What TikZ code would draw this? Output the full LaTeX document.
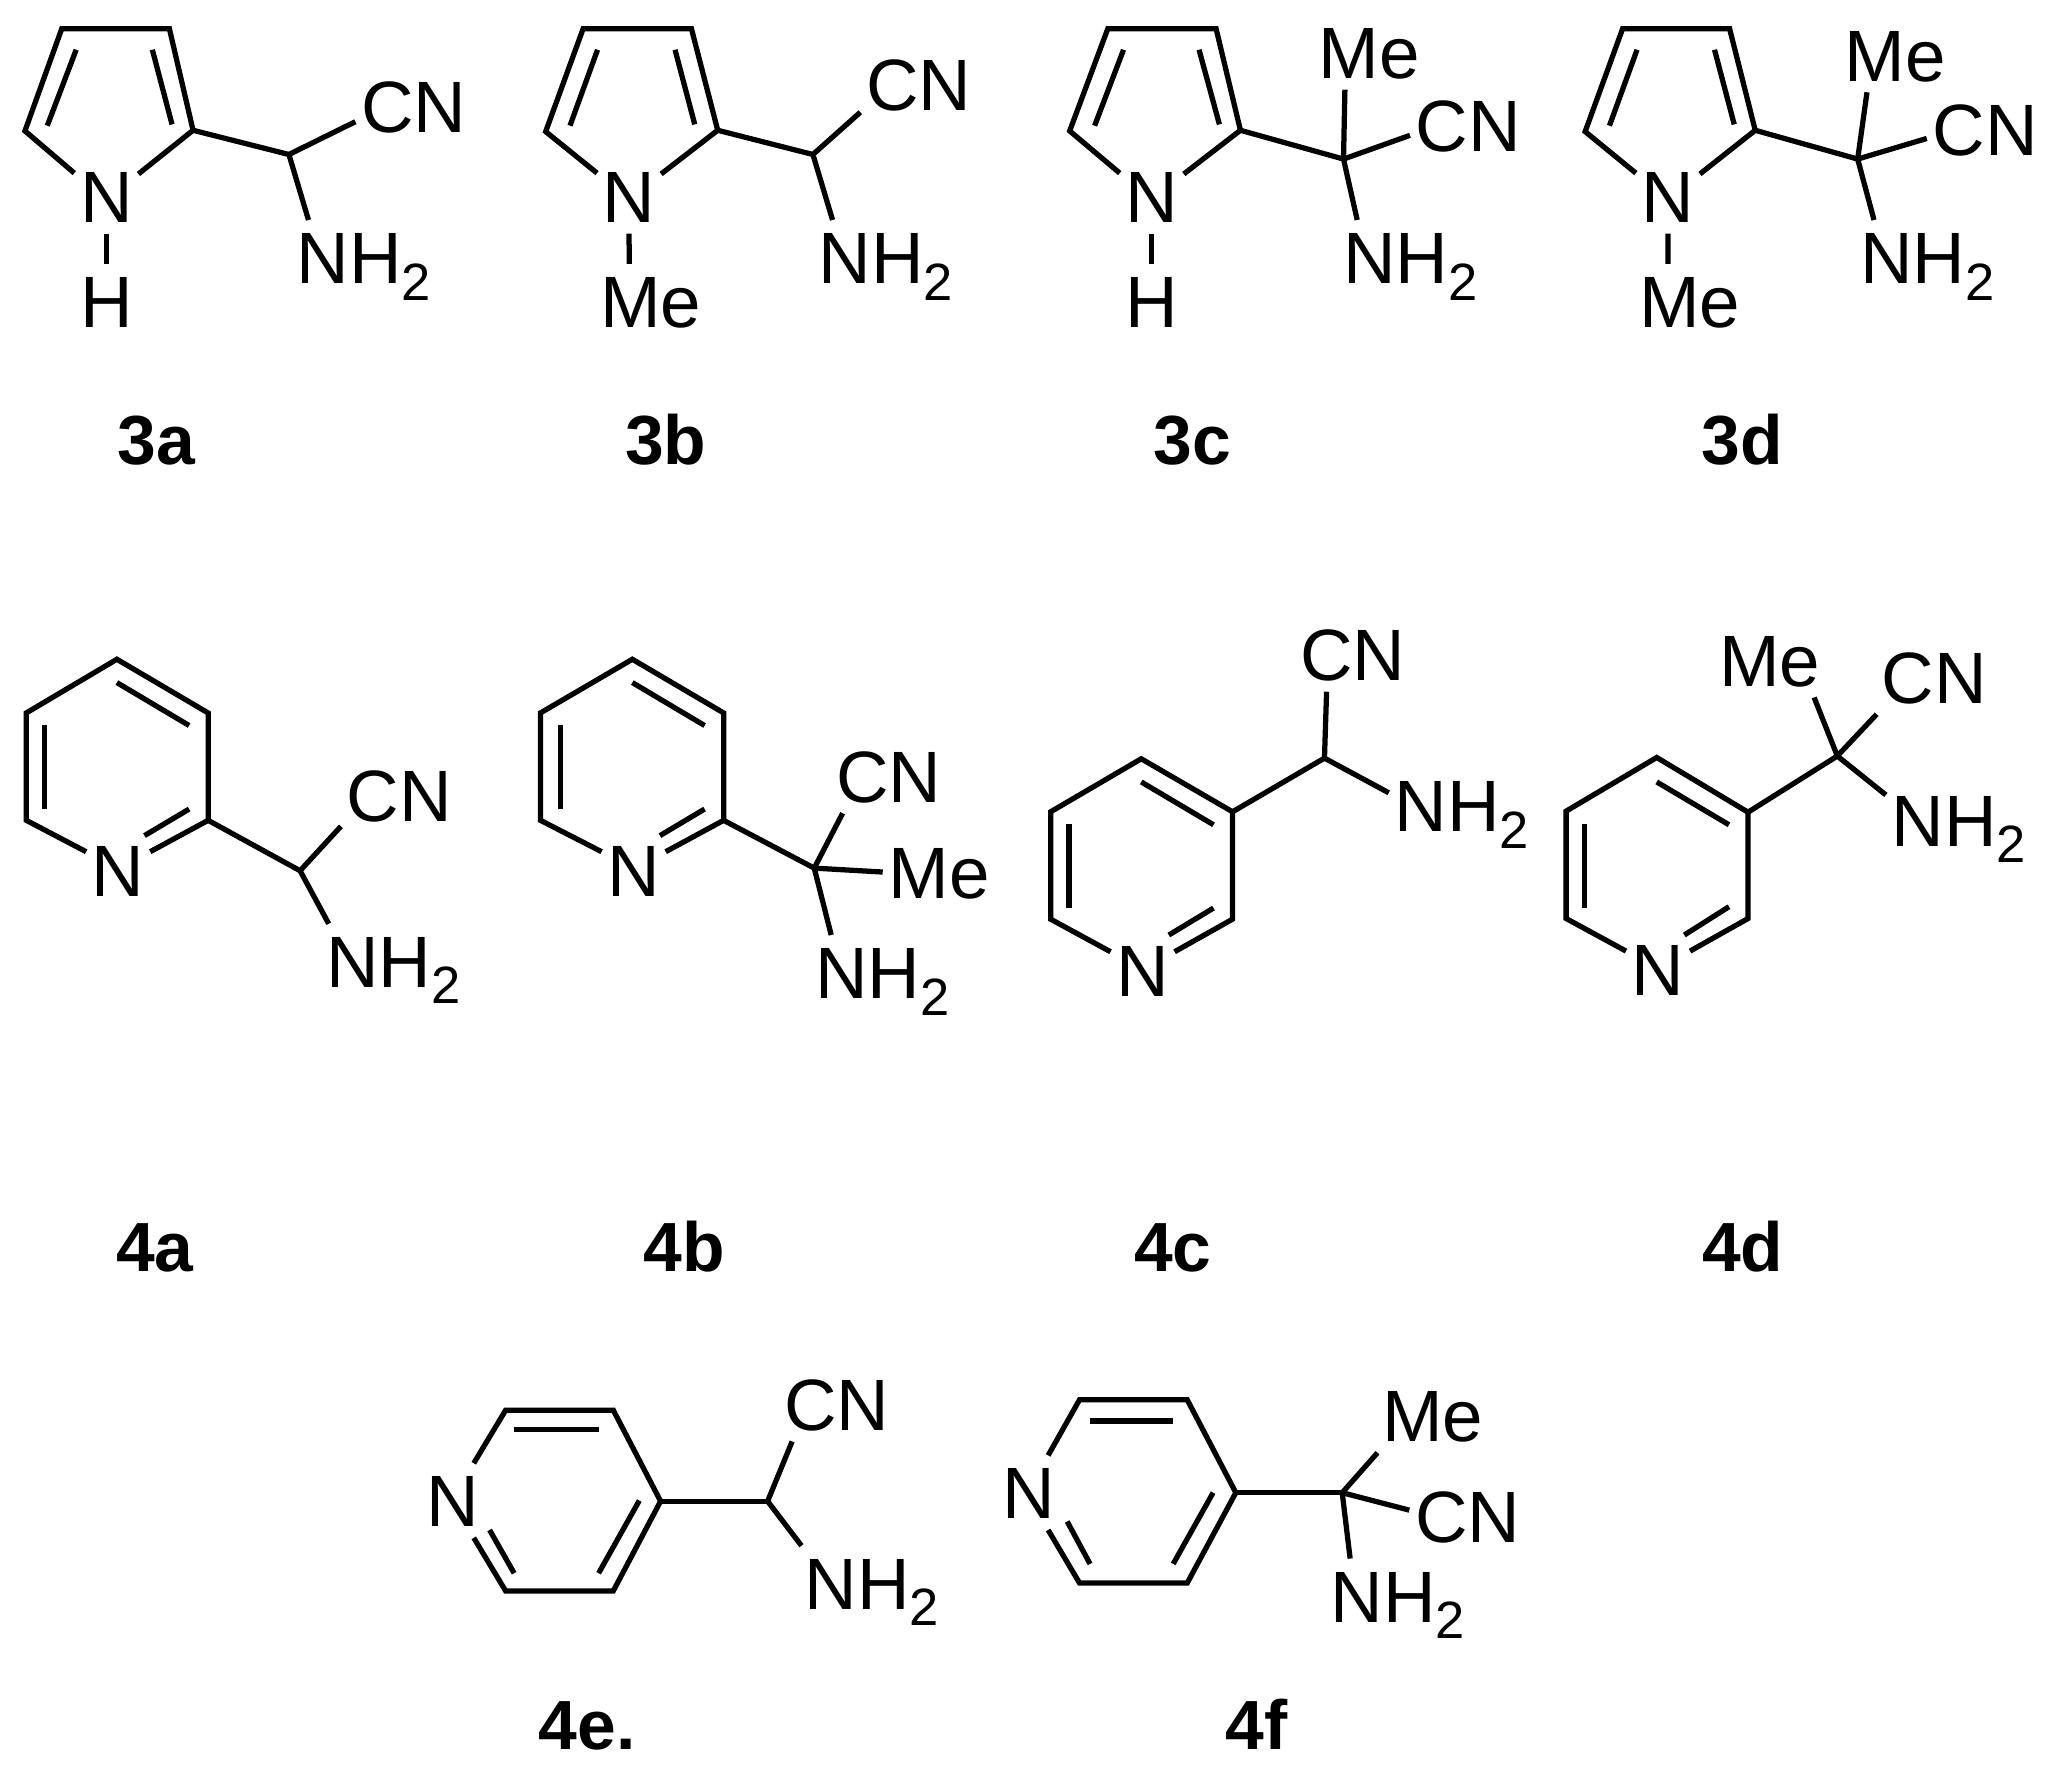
\documentclass[tikz,border=0pt]{standalone}
\usepackage{fontspec}
\setmainfont{Liberation Sans}
\newcommand{\nhtwo}{NH\raisebox{-6.3pt}{\fontsize{20}{20}\selectfont 2}}
\tikzset{
  bond/.style={line width=2pt},
  atom/.style={inner xsep=2pt,inner ysep=4pt,text height=20pt,text depth=0pt,font=\fontsize{27.7}{28}\selectfont},
  cpdname/.style={inner sep=0pt,text height=20pt,text depth=0pt,font=\fontsize{26.5}{28}\selectfont\bfseries}
}
\begin{document}
\begin{tikzpicture}[x=0.5pt,y=-0.4985pt]
  \useasboundingbox (0,0) rectangle (1564,1360);
  % 3a
  \coordinate (3a1) at (19,100);
  \coordinate (3a2) at (47,22);
  \coordinate (3a3) at (129,22);
  \coordinate (3a4) at (147,99.5);
  \coordinate (3aC) at (220,118);
  \node[atom] (3aN) at (81,150) {N};
  \node[atom] (3aH) at (81,230) {H};
  \node[atom] (3aCN) at (315,81) {CN};
  \node[atom] (3aNH) at (277,196.5) {\nhtwo};
  \draw[bond] (3aN.144) -- (3a1) -- (3a2) -- (3a3) -- (3a4) -- (3aN.35);
  \draw[bond] (58,38) -- (36,96);
  \draw[bond] (116,38) -- (131,95);
  \draw[bond] (3aN.south) -- (3aH.north);
  \draw[bond] (3a4) -- (3aC);
  \draw[bond] (3aC) -- (3aCN.195);
  \draw[bond] (3aC) -- (3aNH.146);
  \node[cpdname] (3a) at (119,335) {3a};
  % 3b
  \coordinate (3b1) at (415.5,100.5);
  \coordinate (3b2) at (444,22);
  \coordinate (3b3) at (526.5,22);
  \coordinate (3b4) at (546.5,99.5);
  \coordinate (3bC) at (619,118);
  \node[atom] (3bN) at (479,150) {N};
  \node[atom] (3bMe) at (495.5,230) {Me};
  \node[atom] (3bCN) at (699.5,64) {CN};
  \node[atom] (3bNH) at (674.5,196.5) {\nhtwo};
  \draw[bond] (3bN.144) -- (3b1) -- (3b2) -- (3b3) -- (3b4) -- (3bN.35);
  \draw[bond] (455,38) -- (434,96);
  \draw[bond] (514,38) -- (529,95);
  \draw[bond] (3bN.south) -- (3bMe.120);
  \draw[bond] (3b4) -- (3bC);
  \draw[bond] (3bC) -- (3bCN.206);
  \draw[bond] (3bC) -- (3bNH.145);
  \node[cpdname] (3b) at (507,335) {3b};
  % 3c
  \coordinate (3c1) at (814.5,100);
  \coordinate (3c2) at (843.5,22);
  \coordinate (3c3) at (926,22);
  \coordinate (3c4) at (944.5,99.5);
  \coordinate (3cC) at (1023,121.5);
  \node[atom] (3cN) at (877,150) {N};
  \node[atom] (3cH) at (877,230) {H};
  \node[atom] (3cMe) at (1042.5,40) {Me};
  \node[atom] (3cCN) at (1118,95.5) {CN};
  \node[atom] (3cNH) at (1074,196.5) {\nhtwo};
  \draw[bond] (3cN.144) -- (3c1) -- (3c2) -- (3c3) -- (3c4) -- (3cN.35);
  \draw[bond] (855.5,38) -- (833.5,96);
  \draw[bond] (913,38) -- (928.5,95);
  \draw[bond] (3cN.south) -- (3cH.north);
  \draw[bond] (3c4) -- (3cC);
  \draw[bond] (3cC) -- (3cMe.237);
  \draw[bond] (3cC) -- (3cCN.190);
  \draw[bond] (3cC) -- (3cNH.145);
  \node[cpdname] (3c) at (908,335) {3c};
  % 3d
  \coordinate (3d1) at (1207,100.5);
  \coordinate (3d2) at (1235.5,22);
  \coordinate (3d3) at (1317,22);
  \coordinate (3d4) at (1336.5,99.5);
  \coordinate (3dC) at (1414.5,121.5);
  \node[atom] (3dN) at (1270,150) {N};
  \node[atom] (3dMeN) at (1286.5,230) {Me};
  \node[atom] (3dMe) at (1443,42) {Me};
  \node[atom] (3dCN) at (1511.5,98.7) {CN};
  \node[atom] (3dNH) at (1467.5,196.5) {\nhtwo};
  \draw[bond] (3dN.144) -- (3d1) -- (3d2) -- (3d3) -- (3d4) -- (3dN.35);
  \draw[bond] (1246.5,38) -- (1225.5,96);
  \draw[bond] (1305.5,38) -- (1320.5,95);
  \draw[bond] (3dN.south) -- (3dMeN.120);
  \draw[bond] (3d4) -- (3dC);
  \draw[bond] (3dC) -- (3dMe.233);
  \draw[bond] (3dC) -- (3dCN.189);
  \draw[bond] (3dC) -- (3dNH.145);
  \node[cpdname] (3d) at (1326.5,335) {3d};
  % 4a
  \coordinate (4a1) at (20,626.5);
  \coordinate (4a2) at (20,544.5);
  \coordinate (4a3) at (89,503.5);
  \coordinate (4a4) at (158.5,544.5);
  \coordinate (4a5) at (158.5,626.5);
  \coordinate (4aC) at (228.5,665);
  \node[atom] (4aN) at (90,664.6) {N};
  \node[atom] (4aCN) at (304,607.4) {CN};
  \node[atom] (4aNH) at (299.5,734) {\nhtwo};
  \draw[bond] (4aN.150) -- (4a1) -- (4a2) -- (4a3) -- (4a4) -- (4a5) -- (4aN.30);
  \draw[bond] (34,553.5) -- (34,617.5);
  \draw[bond] (89,521.3) -- (144,554.1);
  \draw[bond] (110,638.2) -- (144,617.9);
  \draw[bond] (4a5) -- (4aC);
  \draw[bond] (4aC) -- (4aCN.208);
  \draw[bond] (4aC) -- (4aNH.150);
  \node[cpdname] (4a) at (118,951) {4a};
  % 4b
  \coordinate (4b1) at (411.5,626.5);
  \coordinate (4b2) at (411.5,544.5);
  \coordinate (4b3) at (481.5,503.5);
  \coordinate (4b4) at (551,544.5);
  \coordinate (4b5) at (551,626.5);
  \coordinate (4bC) at (620,663);
  \node[atom] (4bN) at (482.5,664.6) {N};
  \node[atom] (4bCN) at (676.7,592.6) {CN};
  \node[atom] (4bMe) at (715,666) {Me};
  \node[atom] (4bNH) at (672,742.6) {\nhtwo};
  \draw[bond] (4bN.150) -- (4b1) -- (4b2) -- (4b3) -- (4b4) -- (4b5) -- (4bN.30);
  \draw[bond] (426.5,553.5) -- (426.5,617.5);
  \draw[bond] (481.5,521.3) -- (536.5,554.1);
  \draw[bond] (502.5,638.2) -- (536.5,617.9);
  \draw[bond] (4b5) -- (4bC);
  \draw[bond] (4bC) -- (4bCN.219);
  \draw[bond] (4bC) -- (4bMe.west);
  \draw[bond] (4bC) -- (4bNH.144);
  \node[cpdname] (4b) at (521,951) {4b};
  % 4c
  \coordinate (4c1) at (800,702);
  \coordinate (4c2) at (800,620);
  \coordinate (4c3) at (869,579.5);
  \coordinate (4c4) at (938.5,620);
  \coordinate (4c5) at (938.5,702);
  \coordinate (4cC) at (1008.5,579);
  \node[atom] (4cN) at (870,741) {N};
  \node[atom] (4cCN) at (1030,499.8) {CN};
  \node[atom] (4cNH) at (1113,615.3) {\nhtwo};
  \draw[bond] (4cN.150) -- (4c1) -- (4c2) -- (4c3) -- (4c4) -- (4c5) -- (4cN.30);
  \draw[bond] (814,629.5) -- (814,693.5);
  \draw[bond] (869,597.2) -- (924,629.9);
  \draw[bond] (890,714.1) -- (924,693.5);
  \draw[bond] (4c4) -- (4cC);
  \draw[bond] (4cC) -- (4cCN.235);
  \draw[bond] (4cC) -- (4cNH.170);
  \node[cpdname] (4c) at (893,951) {4c};
  % 4d
  \coordinate (4d1) at (1192.5,701.5);
  \coordinate (4d2) at (1192.5,619.5);
  \coordinate (4d3) at (1261.5,578.5);
  \coordinate (4d4) at (1331,620.3);
  \coordinate (4d5) at (1331,701.5);
  \coordinate (4dC) at (1399,577.4);
  \node[atom] (4dN) at (1262.5,740.5) {N};
  \node[atom] (4dMe) at (1347.5,504.2) {Me};
  \node[atom] (4dCN) at (1472.7,517) {CN};
  \node[atom] (4dNH) at (1491.5,626.3) {\nhtwo};
  \draw[bond] (4dN.150) -- (4d1) -- (4d2) -- (4d3) -- (4d4) -- (4d5) -- (4dN.30);
  \draw[bond] (1206.5,629.5) -- (1206.5,693.5);
  \draw[bond] (1261.5,597.2) -- (1316.5,629.9);
  \draw[bond] (1282.5,714.1) -- (1316.5,692.5);
  \draw[bond] (4d4) -- (4dC);
  \draw[bond] (4dC) -- (4dMe.320);
  \draw[bond] (4dC) -- (4dCN.213);
  \draw[bond] (4dC) -- (4dNH.161);
  \node[cpdname] (4d) at (1327,951) {4d};
  % 4e
  \coordinate (4e1) at (385,1077);
  \coordinate (4e2) at (467,1077);
  \coordinate (4e3) at (503,1146.5);
  \coordinate (4e4) at (467,1215);
  \coordinate (4e5) at (385,1215);
  \coordinate (4eC) at (584.5,1146.5);
  \node[atom] (4eN) at (345,1146) {N};
  \node[atom] (4eCN) at (637,1072.4) {CN};
  \node[atom] (4eNH) at (663.7,1209) {\nhtwo};
  \draw[bond] (4eN.61) -- (4e1) -- (4e2) -- (4e3) -- (4e4) -- (4e5) -- (4eN.299);
  \draw[bond] (391.5,1092) -- (455.8,1092);
  \draw[bond] (486.8,1146) -- (455.8,1201.5);
  \draw[bond] (372.8,1168.5) -- (391.5,1201.5);
  \draw[bond] (4e3) -- (4eC);
  \draw[bond] (4eC) -- (4eCN.220);
  \draw[bond] (4eC) -- (4eNH.152);
  \node[cpdname] (4e) at (447,1316) {4e.};
  % 4f
  \coordinate (4f1) at (822,1069);
  \coordinate (4f2) at (904,1069);
  \coordinate (4f3) at (941,1140);
  \coordinate (4f4) at (904,1209);
  \coordinate (4f5) at (822,1209);
  \coordinate (4fC) at (1022,1140);
  \node[atom] (4fN) at (783,1140) {N};
  \node[atom] (4fMe) at (1091,1081) {Me};
  \node[atom] (4fCN) at (1117.5,1158) {CN};
  \node[atom] (4fNH) at (1064.4,1218.8) {\nhtwo};
  \draw[bond] (4fN.62) -- (4f1) -- (4f2) -- (4f3) -- (4f4) -- (4f5) -- (4fN.298);
  \draw[bond] (830,1085.3) -- (893.3,1085.3);
  \draw[bond] (923.7,1140) -- (893.3,1194.4);
  \draw[bond] (812.6,1162) -- (830,1194.4);
  \draw[bond] (4f3) -- (4fC);
  \draw[bond] (4fC) -- (4fMe.214);
  \draw[bond] (4fC) -- (4fCN.174);
  \draw[bond] (4fC) -- (4fNH.142);
  \node[cpdname] (4f) at (957,1316) {4f};
\end{tikzpicture}
\end{document}
